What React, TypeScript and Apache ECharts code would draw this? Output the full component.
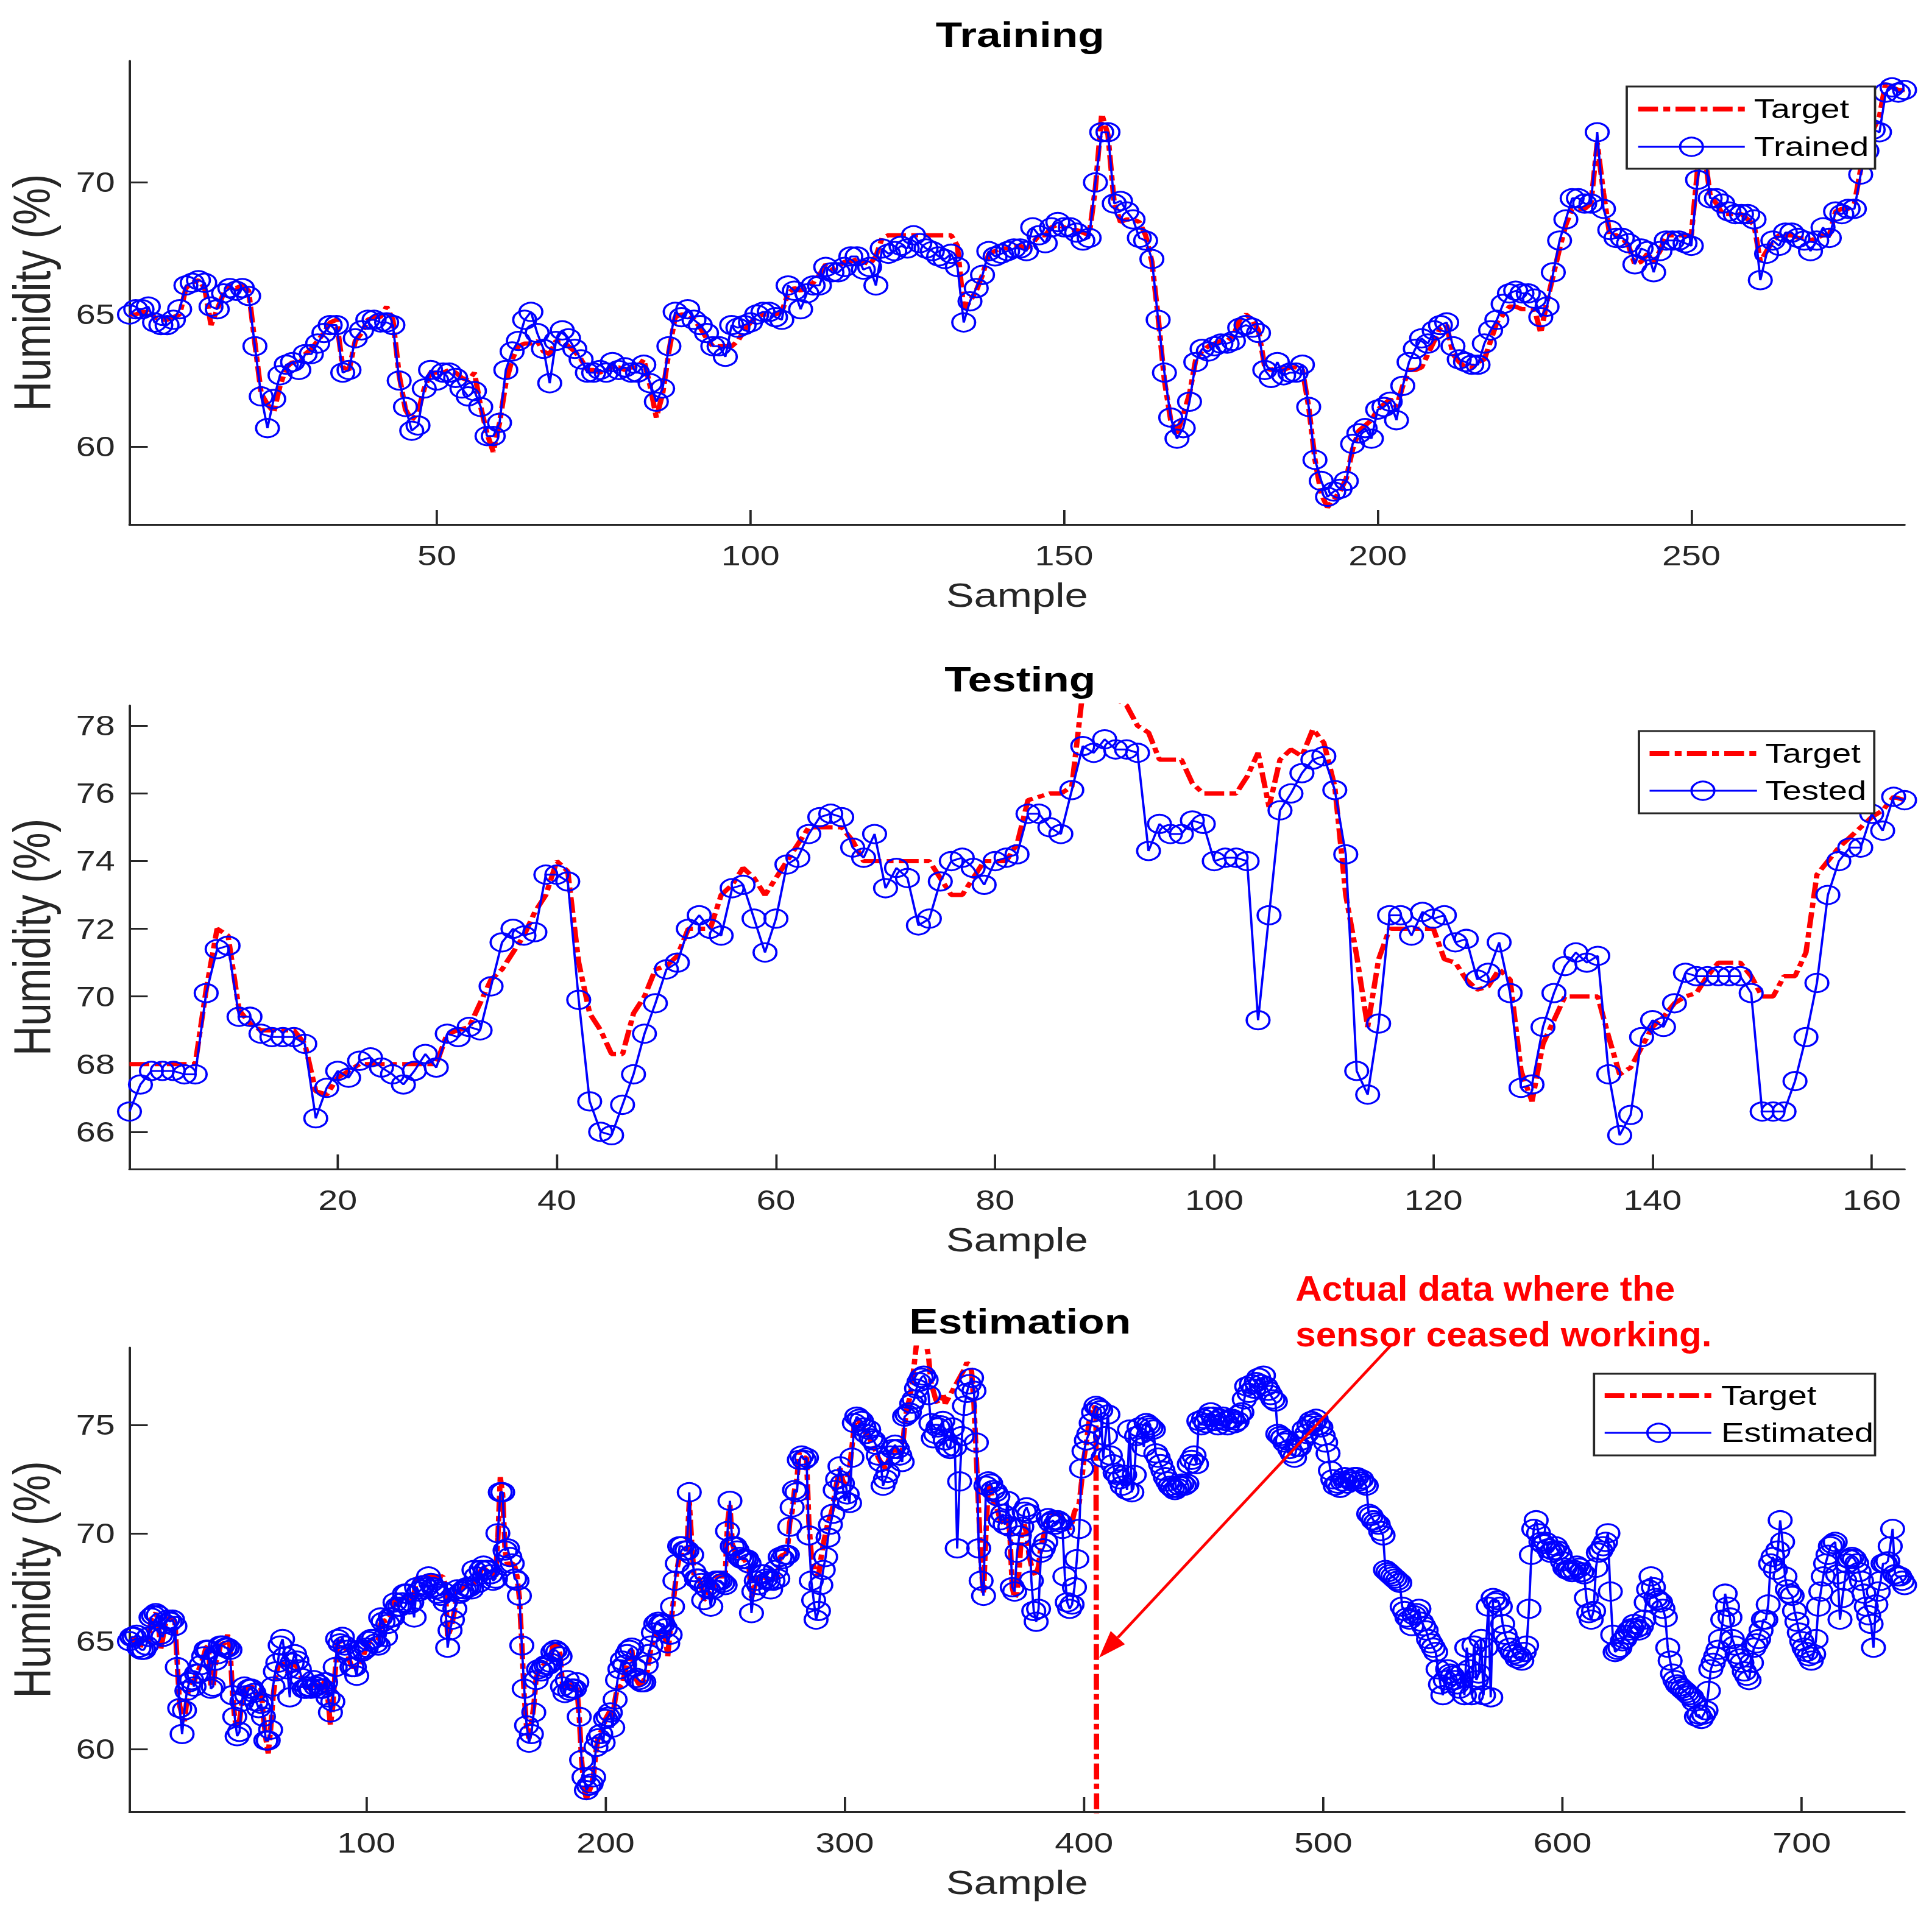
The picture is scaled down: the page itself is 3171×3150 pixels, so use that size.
import * as echarts from "echarts";
import { useEffect, useRef } from "react";

// the source figure was exported with a horizontal stretch, so the chart is laid out
// narrower and stretched back with CSS
const STRETCH = 1.25;
const FULL_W = 3171;
const FULL_H = 3150;
const W = FULL_W / STRETCH;

const FONT = "'Liberation Sans', Arial, Helvetica, sans-serif";
const AXIS_COLOR = "#262626";
const RED_DASH = [26, 7, 9, 7];

// Training (samples 1..284)
const trainTarget = [
  65.0, 65.0, 65.1, 65.1, 64.9, 64.8, 64.8, 64.9, 65.0, 66.0,
  66.2, 66.3, 66.0, 64.6, 65.2, 65.8, 66.1, 66.0, 66.1, 65.9,
  63.9, 62.0, 61.6, 61.3, 62.3, 63.0, 63.2, 63.1, 63.5, 63.7,
  64.0, 64.3, 64.7, 64.8, 63.0, 62.9, 64.0, 64.3, 64.8, 64.9,
  64.9, 65.3, 64.8, 62.7, 61.4, 61.0, 61.3, 62.2, 62.8, 62.8,
  62.8, 62.9, 62.8, 62.6, 62.5, 62.8, 61.5, 60.5, 59.8, 60.9,
  62.4, 63.3, 63.8, 63.9, 63.9, 64.0, 63.6, 63.5, 64.0, 64.0,
  63.8, 63.6, 63.3, 62.9, 62.9, 62.8, 62.9, 63.0, 63.0, 62.9,
  63.0, 63.0, 63.3, 62.3, 61.1, 62.0, 63.6, 64.9, 65.0, 65.0,
  64.8, 64.5, 64.1, 63.8, 63.8, 63.8, 63.8, 64.0, 64.4, 64.7,
  64.9, 65.0, 65.0, 65.0, 65.1, 65.8, 66.0, 65.9, 66.1, 66.2,
  66.5, 66.9, 66.7, 66.8, 67.0, 67.0, 67.1, 67.0, 66.9, 67.2,
  67.9, 68.0, 68.0, 68.0, 68.0, 68.0, 68.0, 68.0, 68.0, 68.0,
  68.0, 68.0, 67.6, 65.2, 65.5, 65.9, 66.5, 67.3, 67.4, 67.5,
  67.5, 67.6, 67.6, 67.5, 67.7, 68.0, 68.0, 68.3, 68.4, 68.3,
  68.2, 68.2, 68.1, 68.0, 69.8, 72.6, 71.8, 69.2, 68.5, 68.6,
  68.6, 68.5, 68.0, 67.0, 64.9, 62.5, 61.0, 60.5, 61.2, 62.0,
  63.3, 63.6, 63.8, 63.9, 64.0, 64.0, 64.2, 64.8, 65.0, 64.8,
  64.4, 63.0, 62.9, 63.0, 62.9, 63.0, 63.0, 62.9, 61.5, 59.5,
  58.2, 57.7, 58.0, 58.3, 58.8, 59.9, 60.6, 60.8, 61.0, 61.4,
  61.6, 61.8, 61.5, 62.3, 62.9, 62.9, 63.0, 63.5, 64.0, 64.5,
  64.6, 63.5, 63.2, 63.0, 63.0, 63.2, 63.3, 64.0, 64.7, 65.0,
  65.3, 65.3, 65.2, 65.2, 65.2, 64.3, 65.5, 66.5, 67.5, 68.4,
  69.0, 69.0, 69.0, 69.2, 71.5, 69.6, 68.0, 68.0, 67.9, 67.6,
  66.9, 67.0, 67.3, 67.0, 67.4, 68.0, 68.0, 68.0, 68.0, 68.0,
  70.5, 71.3, 69.5, 69.2, 68.8, 68.8, 68.8, 68.8, 68.6, 68.4,
  67.0, 67.4, 67.8, 68.0, 68.0, 68.0, 67.9, 67.9, 67.8, 67.9,
  68.0, 68.0, 68.9, 69.0, 69.0, 69.2, 70.5, 71.0, 72.0, 72.5,
  73.8, 73.6, 73.5, 73.5,
];
const trainOutput = [
  65.0, 65.2, 65.2, 65.3, 64.7, 64.6, 64.6, 64.8, 65.2, 66.1,
  66.2, 66.3, 66.2, 65.3, 65.2, 65.8, 66.0, 65.9, 66.0, 65.7,
  63.8, 61.9, 60.7, 61.8, 62.7, 63.1, 63.2, 62.9, 63.5, 63.5,
  63.9, 64.3, 64.6, 64.6, 62.8, 62.9, 64.1, 64.4, 64.8, 64.8,
  64.7, 64.7, 64.6, 62.5, 61.5, 60.6, 60.8, 62.2, 62.9, 62.5,
  62.8, 62.8, 62.6, 62.2, 61.9, 62.1, 61.5, 60.4, 60.4, 60.9,
  62.9, 63.6, 64.0, 64.8, 65.1, 64.3, 63.7, 62.4, 64.0, 64.4,
  64.1, 63.7, 63.3, 62.8, 62.8, 62.9, 62.8, 63.2, 62.9, 63.0,
  62.8, 62.8, 63.1, 62.4, 61.7, 62.2, 63.8, 65.1, 64.9, 65.2,
  64.8, 64.6, 64.3, 63.8, 63.8, 63.4, 64.6, 64.5, 64.6, 64.7,
  65.0, 65.1, 65.1, 64.9, 64.8, 66.1, 65.9, 65.2, 65.8, 66.1,
  66.1, 66.8, 66.6, 66.6, 66.8, 67.2, 67.2, 66.7, 66.8, 66.1,
  67.5, 67.3, 67.4, 67.6, 67.5, 68.0, 67.7, 67.5, 67.4, 67.2,
  67.1, 67.3, 66.8, 64.7, 65.5, 66.0, 66.5, 67.4, 67.2, 67.3,
  67.4, 67.5, 67.5, 67.4, 68.3, 68.0, 67.7, 68.3, 68.5, 68.3,
  68.3, 68.1, 67.8, 67.9, 70.0, 71.9, 71.9, 69.2, 69.3, 68.9,
  68.6, 67.9, 67.8, 67.1, 64.8, 62.8, 61.1, 60.3, 60.7, 61.7,
  63.2, 63.7, 63.6, 63.8, 63.9, 63.9, 64.0, 64.5, 64.6, 64.5,
  64.3, 62.9, 62.6, 63.2, 62.7, 62.8, 62.8, 63.1, 61.5, 59.5,
  58.7, 58.1, 58.3, 58.4, 58.7, 60.1, 60.5, 60.7, 60.3, 61.4,
  61.5, 61.7, 61.0, 62.3, 63.2, 63.7, 64.1, 63.9, 64.4, 64.6,
  64.7, 63.8, 63.3, 63.2, 63.1, 63.1, 63.9, 64.4, 64.8, 65.4,
  65.8, 65.9, 65.8, 65.8, 65.6, 64.9, 65.3, 66.6, 67.8, 68.6,
  69.4, 69.4, 69.2, 69.2, 71.9, 69.0, 68.2, 67.9, 67.9, 67.7,
  66.9, 67.5, 67.4, 66.6, 67.4, 67.8, 67.8, 67.8, 67.7, 67.6,
  70.1, 71.5, 69.4, 69.4, 69.2, 68.9, 68.8, 68.8, 68.8, 68.6,
  66.3, 67.3, 67.8, 67.6, 68.1, 68.1, 67.9, 67.8, 67.4, 67.8,
  68.3, 67.9, 68.9, 68.8, 69.0, 69.0, 70.3, 71.2, 72.0, 71.9,
  73.4, 73.6, 73.4, 73.5,
];

// Testing (samples 1..163)
const testTarget = [
  68.0, 68.0, 68.0, 68.0, 68.0, 68.0, 68.0, 70.2, 72.0, 71.8,
  69.6, 69.2, 69.0, 69.0, 69.0, 69.0, 68.6, 67.2, 67.1, 67.6,
  67.8, 68.0, 68.0, 68.0, 68.0, 68.0, 68.0, 68.0, 68.0, 68.9,
  69.0, 69.1, 69.8, 70.5, 70.8, 71.3, 71.8, 72.5, 73.0, 74.0,
  73.7, 71.0, 69.5, 69.0, 68.3, 68.3, 69.5, 70.0, 70.8, 70.9,
  71.2, 72.0, 72.0, 72.0, 73.0, 73.3, 73.8, 73.5, 73.0, 73.5,
  74.0, 74.5, 75.0, 75.0, 75.0, 75.0, 74.6, 74.0, 74.0, 74.0,
  74.0, 74.0, 74.0, 74.0, 73.5, 73.0, 73.0, 73.5, 74.0, 74.0,
  74.0, 74.5, 75.8, 75.9, 76.0, 76.0, 76.2, 79.0, 79.5, 79.5,
  78.8, 78.6, 78.0, 77.8, 77.0, 77.0, 77.0, 76.3, 76.0, 76.0,
  76.0, 76.0, 76.5, 77.2, 75.6, 77.0, 77.3, 77.1, 77.9, 77.5,
  76.2, 73.0, 71.2, 69.1, 71.1, 72.0, 72.0, 72.0, 72.0, 72.0,
  71.1, 71.0, 70.5, 70.2, 70.3, 70.8, 70.5, 67.8, 66.9, 68.6,
  69.3, 70.0, 70.0, 70.0, 70.0, 68.8, 67.7, 67.9, 68.5, 69.1,
  69.4, 69.8, 70.0, 70.1, 70.6, 71.0, 71.0, 71.0, 70.6, 70.0,
  70.0, 70.6, 70.6, 71.3, 73.6, 74.0, 74.4, 74.7, 75.0, 75.3,
  75.5, 75.9, 75.8,
];
const testOutput = [
  66.6, 67.4, 67.8, 67.8, 67.8, 67.7, 67.7, 70.1, 71.4, 71.5,
  69.4, 69.4, 68.9, 68.8, 68.8, 68.8, 68.6, 66.4, 67.3, 67.8,
  67.6, 68.1, 68.2, 67.9, 67.7, 67.4, 67.8, 68.3, 67.9, 68.9,
  68.8, 69.1, 69.0, 70.3, 71.6, 72.0, 71.8, 71.9, 73.6, 73.6,
  73.4, 69.9, 66.9, 66.0, 65.9, 66.8, 67.7, 68.9, 69.8, 70.8,
  71.0, 72.0, 72.4, 72.0, 71.8, 73.2, 73.3, 72.3, 71.3, 72.3,
  73.9, 74.1, 74.8, 75.3, 75.4, 75.3, 74.4, 74.1, 74.8, 73.2,
  73.8, 73.5, 72.1, 72.3, 73.4, 74.0, 74.1, 73.8, 73.3, 74.0,
  74.1, 74.2, 75.4, 75.4, 75.0, 74.8, 76.1, 77.4, 77.2, 77.6,
  77.3, 77.3, 77.2, 74.3, 75.1, 74.8, 74.8, 75.2, 75.1, 74.0,
  74.1, 74.1, 74.0, 69.3, 72.4, 75.5, 76.0, 76.6, 77.0, 77.1,
  76.1, 74.2, 67.8, 67.1, 69.2, 72.4, 72.4, 71.8, 72.5, 72.3,
  72.4, 71.6, 71.7, 70.5, 70.7, 71.6, 70.1, 67.3, 67.4, 69.1,
  70.1, 70.9, 71.3, 71.0, 71.2, 67.7, 65.9, 66.5, 68.8, 69.3,
  69.1, 69.8, 70.7, 70.6, 70.6, 70.6, 70.6, 70.6, 70.1, 66.6,
  66.6, 66.6, 67.5, 68.8, 70.4, 73.0, 74.0, 74.4, 74.4, 75.4,
  74.9, 75.9, 75.8,
];

// Estimation: samples 1..284 repeat the training record, then these follow
const estTargetMid = [
  70.5, 69.0, 68.5, 68.2, 68.0, 68.8, 69.5, 70.0, 70.5, 70.8,
  71.2, 72.0, 72.5, 73.0, 72.5, 72.2, 72.5, 73.0, 74.0, 75.0,
  75.3, 75.2, 75.0, 74.8, 74.6, 74.5, 74.2, 74.0, 73.8, 73.5,
  73.3, 73.2, 73.0, 73.3, 73.6, 73.8, 74.0, 73.8, 73.6, 73.8,
  75.0, 75.8, 76.2, 76.8, 77.8, 78.8, 79.5, 79.5, 79.2, 78.8,
  78.2, 77.0, 76.6, 76.2, 76.0, 76.2, 76.5, 76.0, 76.2, 76.4,
  76.6, 76.8, 77.0, 77.2, 77.4, 77.6, 77.9, 77.8, 77.5, 76.0,
  73.5, 71.0, 68.5, 67.2, 70.0, 72.2, 72.0, 71.5, 71.3, 71.0,
  70.6, 70.5, 70.4, 70.8, 70.0, 67.5, 67.0, 67.2, 68.5, 70.2,
  70.4, 70.0, 69.0, 68.5, 68.2, 68.0, 68.5, 69.4, 69.8, 70.2,
  70.7, 70.8, 70.9, 70.9, 70.9, 70.8, 70.7, 70.5, 70.3, 70.2,
  70.5, 71.0, 71.2, 71.4, 72.4, 73.5, 74.2, 75.1, 75.6, 75.9,
  75.7,
];
// reading logged when the sensor ceased working (sample 406)
const ceasedReading = [0];
const estOutputMid = [
  69.9, 67.8, 66.9, 66.0, 66.4, 67.6, 68.3, 68.9, 69.8, 70.4,
  70.9, 72.0, 72.5, 73.1, 72.3, 71.5, 71.8, 71.4, 73.5, 75.1,
  75.4, 75.3, 75.2, 74.9, 74.6, 74.8, 74.4, 74.3, 74.1, 73.6,
  73.3, 72.2, 72.5, 72.8, 73.6, 73.9, 74.1, 73.9, 73.6, 73.3,
  75.4, 75.5, 75.6, 76.0, 76.2, 76.7, 77.0, 77.2, 77.3, 77.1,
  76.4, 75.1, 74.4, 74.6, 74.9, 75.0, 75.2, 74.3, 74.0, 73.9,
  74.9, 74.0, 69.3, 72.4, 74.5, 75.9, 76.5, 76.9, 77.2, 76.6,
  74.2, 69.3, 67.8, 67.1, 72.2, 72.4, 72.3, 72.0, 71.9, 71.7,
  70.6, 70.9, 70.4, 71.5, 70.3, 67.5, 67.3, 69.1, 69.9, 70.3,
  71.0, 71.2, 70.9, 67.8, 66.4, 65.9, 66.5, 69.1, 69.3, 69.6,
  70.7, 70.5, 70.6, 70.4, 70.6, 70.5, 70.2, 68.0, 66.8, 66.5,
  66.7, 67.5, 68.8, 70.2, 73.0, 73.8, 74.3, 74.6, 75.1, 75.6,
  75.9,
];
const estOutputTail = [
  75.8, 75.7, 73.5, 74.5, 75.5, 73.6, 73.2, 72.8, 72.7, 72.5,
  72.2, 72.7, 72.0, 74.8, 71.9, 72.7, 74.5, 74.9, 74.6, 74.0,
  75.1, 75.0, 74.9, 74.8, 73.7, 73.5, 73.2, 72.9, 72.6, 72.4,
  72.2, 72.1, 72.0, 72.1, 72.2, 72.3, 72.2, 72.3, 73.2, 73.4,
  73.6, 73.2, 75.2, 75.0, 75.3, 75.1, 75.4, 75.6, 75.4, 75.2,
  75.0, 75.3, 75.4, 75.2, 75.0, 75.3, 75.3, 75.1, 75.2, 75.5,
  75.6, 76.2, 76.8, 76.5, 76.9, 76.7, 77.0, 77.2, 76.9, 77.3,
  76.8, 76.6, 76.4, 76.2, 76.1, 74.6, 74.5, 74.4, 74.2, 74.3,
  73.9, 73.7, 73.5, 74.0, 74.0, 74.3, 74.8, 74.6, 75.0, 75.2,
  75.1, 75.3, 75.0, 74.9, 74.5, 74.2, 73.7, 72.9, 72.5, 72.2,
  72.3, 72.1, 72.4, 72.6, 72.3, 72.5, 72.4, 72.6, 72.6, 72.4,
  72.5, 72.3, 72.2, 70.9, 70.8, 70.6, 70.5, 70.4, 70.1, 69.9,
  68.3, 68.2, 68.1, 68.0, 67.9, 67.8, 67.7, 66.6, 66.4, 66.1,
  66.0, 65.7, 66.2, 66.3, 66.5, 65.9, 65.7, 65.5, 65.1, 64.9,
  64.7, 64.5, 63.7, 63.0, 62.5, 63.2, 63.7, 63.5, 63.4, 63.2,
  63.0, 62.8, 63.5, 62.5, 64.7, 63.7, 62.5, 64.8, 63.2, 63.5,
  65.1, 62.5, 64.7, 66.6, 62.4, 67.0, 66.8, 66.9, 66.6, 65.8,
  65.3, 65.0, 64.7, 64.5, 64.4, 64.2, 64.3, 64.1, 64.5, 64.8,
  66.5, 69.0, 70.2, 70.6, 70.0, 69.6, 69.5, 69.6, 69.3, 69.1,
  69.2, 69.4, 69.2, 69.0, 68.7, 68.4, 68.3, 68.3, 68.2, 68.3,
  68.5, 68.4, 68.2, 68.1, 67.0, 66.3, 66.0, 66.4, 68.4, 69.1,
  69.2, 69.4, 69.6, 70.0, 67.3, 65.3, 64.5, 64.6, 64.7, 65.0,
  65.1, 65.3, 65.5, 65.6, 65.8, 65.6, 65.5, 65.7, 66.0, 66.8,
  67.4, 68.0, 67.5, 67.0, 66.9, 66.8, 66.5, 66.1, 64.7, 64.1,
  63.5, 63.2, 63.0, 62.9, 62.8, 62.7, 62.6, 62.5, 62.4, 62.2,
  61.5, 61.6, 61.4, 61.6, 61.8, 62.7, 63.7, 64.0, 64.3, 64.6,
  65.1, 66.0, 67.2, 66.6, 66.1, 65.1, 64.8, 64.4, 64.2, 64.0,
  63.6, 63.4, 63.2, 64.0, 64.7, 64.9, 65.1, 65.5, 66.0, 66.0,
  66.7, 68.6, 68.9, 68.3, 69.2, 70.6, 69.6, 68.0, 67.4, 67.2,
  67.1, 66.4, 65.9, 65.4, 65.0, 64.7, 64.5, 64.3, 64.1, 64.4,
  65.1, 66.6, 67.3, 68.0, 68.6, 69.0, 69.4, 69.5, 69.6, 68.1,
  66.0, 67.0, 67.8, 68.6, 68.8, 68.9, 68.8, 68.6, 68.2, 67.8,
  67.2, 66.6, 66.2, 65.8, 64.7, 66.7, 67.3, 67.8, 68.6, 68.6,
  68.7, 69.4, 70.2, 68.1, 68.0, 68.0, 67.8, 67.6,
];

const estTarget = [...trainTarget, ...estTargetMid, ...ceasedReading];
const estOutput = [...trainOutput, ...estOutputMid, ...estOutputTail];

// tick labels
const trainXTicks = [50, 100, 150, 200, 250];
const trainYTicks = [60, 65, 70];
const testXTicks = [20, 40, 60, 80, 100, 120, 140, 160];
const testYTicks = [66, 68, 70, 72, 74, 76, 78];
const estXTicks = [100, 200, 300, 400, 500, 600, 700];
const estYTicks = [60, 65, 70, 75];

const toPairs = (values: number[]) => values.map((v, i) => [i + 1, v]);

const GRID_LEFT = 168;
const GRID_RIGHT = 36;

const xAxisFor = (gridIndex: number, max: number, ticks: number[]) => ({
  type: "value",
  gridIndex,
  min: 1,
  max,
  axisLine: { show: true, onZero: false, lineStyle: { color: AXIS_COLOR, width: 3 } },
  axisTick: {
    show: true,
    inside: true,
    length: 24,
    customValues: ticks,
    lineStyle: { color: AXIS_COLOR, width: 3 },
  },
  axisLabel: { customValues: ticks, fontSize: 46, color: AXIS_COLOR, fontFamily: FONT, margin: 28 },
  splitLine: { show: false },
  name: "Sample",
  nameLocation: "middle",
  nameGap: 88,
  nameTextStyle: { fontSize: 55, color: AXIS_COLOR, fontFamily: FONT },
});

const yAxisFor = (gridIndex: number, min: number, max: number, ticks: number[]) => ({
  type: "value",
  gridIndex,
  min,
  max,
  axisLine: { show: true, onZero: false, lineStyle: { color: AXIS_COLOR, width: 3 } },
  axisTick: {
    show: true,
    inside: true,
    length: 24,
    customValues: ticks,
    lineStyle: { color: AXIS_COLOR, width: 3 },
  },
  axisLabel: { customValues: ticks, fontSize: 46, color: AXIS_COLOR, fontFamily: FONT, margin: 19 },
  splitLine: { show: false },
  name: "Humidity (%)",
  nameLocation: "middle",
  nameGap: 94,
  nameTextStyle: { fontSize: 68, color: AXIS_COLOR, fontFamily: FONT },
});

const targetSeries = (idx: number, values: number[]) => ({
  type: "line",
  name: "Target",
  xAxisIndex: idx,
  yAxisIndex: idx,
  data: toPairs(values),
  symbol: "none",
  silent: true,
  z: 2,
  lineStyle: { color: "#ff0000", width: 7, type: RED_DASH, cap: "butt" },
});

const outputSeries = (idx: number, name: string, values: number[]) => ({
  type: "line",
  name,
  xAxisIndex: idx,
  yAxisIndex: idx,
  data: toPairs(values),
  symbol: "circle",
  symbolSize: 30,
  silent: true,
  z: 3,
  itemStyle: { color: "rgba(0,0,0,0)", borderColor: "#0000ff", borderWidth: 3 },
  lineStyle: { color: "#0000ff", width: 3 },
});

const legendBox = (
  x1: number, x2: number, y1: number, y2: number,
  lineX1: number, lineX2: number, markX: number, textX: number,
  row1: number, row2: number, label: string,
) => [
  {
    type: "rect",
    z: 100,
    shape: { x: x1, y: y1, width: x2 - x1, height: y2 - y1 },
    style: { fill: "#ffffff", stroke: AXIS_COLOR, lineWidth: 3 },
  },
  {
    type: "line",
    z: 101,
    shape: { x1: lineX1, y1: row1, x2: lineX2, y2: row1 },
    style: { stroke: "#ff0000", lineWidth: 8, lineDash: RED_DASH },
  },
  {
    type: "line",
    z: 101,
    shape: { x1: lineX1, y1: row2, x2: lineX2, y2: row2 },
    style: { stroke: "#0000ff", lineWidth: 3 },
  },
  {
    type: "circle",
    z: 102,
    shape: { cx: markX, cy: row2, r: 15 },
    style: { fill: "none", stroke: "#0000ff", lineWidth: 3 },
  },
  {
    type: "text",
    z: 102,
    x: textX,
    y: row1,
    style: { text: "Target", fontSize: 45, fontFamily: FONT, fill: "#000000", align: "left", verticalAlign: "middle" },
  },
  {
    type: "text",
    z: 102,
    x: textX,
    y: row2,
    style: { text: label, fontSize: 45, fontFamily: FONT, fill: "#000000", align: "left", verticalAlign: "middle" },
  },
];

const titleFor = (text: string, top: number) => ({
  text,
  left: (GRID_LEFT + (W - GRID_RIGHT)) / 2,
  top,
  textAlign: "center",
  textStyle: { fontSize: 57, fontWeight: "bold", color: "#000000", fontFamily: FONT },
});

const App = () => {
  const chartRef = useRef<HTMLDivElement>(null);

  useEffect(() => {
    document.body.style.margin = "0";
    const chart = echarts.init(chartRef.current, null, { renderer: "svg", width: W, height: FULL_H });
    const option: any = {
      animation: false,
      backgroundColor: "#ffffff",
      title: [titleFor("Training", 24), titleFor("Testing", 1082), titleFor("Estimation", 2136)],
      grid: [
        { left: GRID_LEFT, right: GRID_RIGHT, top: 100, height: 761 },
        { left: GRID_LEFT, right: GRID_RIGHT, top: 1158, height: 761 },
        { left: GRID_LEFT, right: GRID_RIGHT, top: 2212, height: 762 },
      ],
      xAxis: [
        xAxisFor(0, trainTarget.length, trainXTicks),
        xAxisFor(1, testTarget.length, testXTicks),
        xAxisFor(2, estOutput.length, estXTicks),
      ],
      yAxis: [
        yAxisFor(0, 57.05, 74.6, trainYTicks),
        yAxisFor(1, 64.9, 78.6, testYTicks),
        yAxisFor(2, 57.1, 78.6, estYTicks),
      ],
      series: [
        targetSeries(0, trainTarget),
        outputSeries(0, "Trained", trainOutput),
        targetSeries(1, testTarget),
        outputSeries(1, "Tested", testOutput),
        targetSeries(2, estTarget),
        outputSeries(2, "Estimated", estOutput),
      ],
      graphic: [
        ...legendBox(2136, 2462, 142, 277, 2151, 2291, 2221, 2303, 179, 241, "Trained"),
        ...legendBox(2152, 2461, 1200, 1335, 2166, 2307, 2236, 2318, 1237, 1298, "Tested"),
        ...legendBox(2093, 2462, 2255, 2389, 2107, 2247, 2178, 2260, 2291, 2352, "Estimated"),
        {
          type: "text",
          z: 110,
          x: 1701,
          y: 2144,
          scaleX: 0.846,
          style: {
            text: "Actual data where the",
            fontSize: 57,
            fontWeight: "bold",
            fontFamily: FONT,
            fill: "#ff0000",
            align: "left",
            verticalAlign: "bottom",
          },
        },
        {
          type: "text",
          z: 110,
          x: 1701,
          y: 2219,
          scaleX: 0.846,
          style: {
            text: "sensor ceased working.",
            fontSize: 57,
            fontWeight: "bold",
            fontFamily: FONT,
            fill: "#ff0000",
            align: "left",
            verticalAlign: "bottom",
          },
        },
        {
          type: "line",
          z: 110,
          shape: { x1: 1828, y1: 2206, x2: 1467.8, y2: 2688 },
          style: { stroke: "#ff0000", lineWidth: 4 },
        },
        {
          type: "polygon",
          z: 110,
          shape: { points: [[1443.2, 2721], [1477.1, 2699], [1458.4, 2677.2]] },
          style: { fill: "#ff0000" },
        },
      ],
    };
    chart.setOption(option);
    return () => {
      chart.dispose();
    };
  }, []);

  return (
    <div
      ref={chartRef}
      style={{
        position: "absolute",
        left: 0,
        top: 0,
        width: W,
        height: FULL_H,
        transform: `scaleX(${STRETCH})`,
        transformOrigin: "0 0",
        background: "#ffffff",
      }}
    />
  );
};

export default App;
